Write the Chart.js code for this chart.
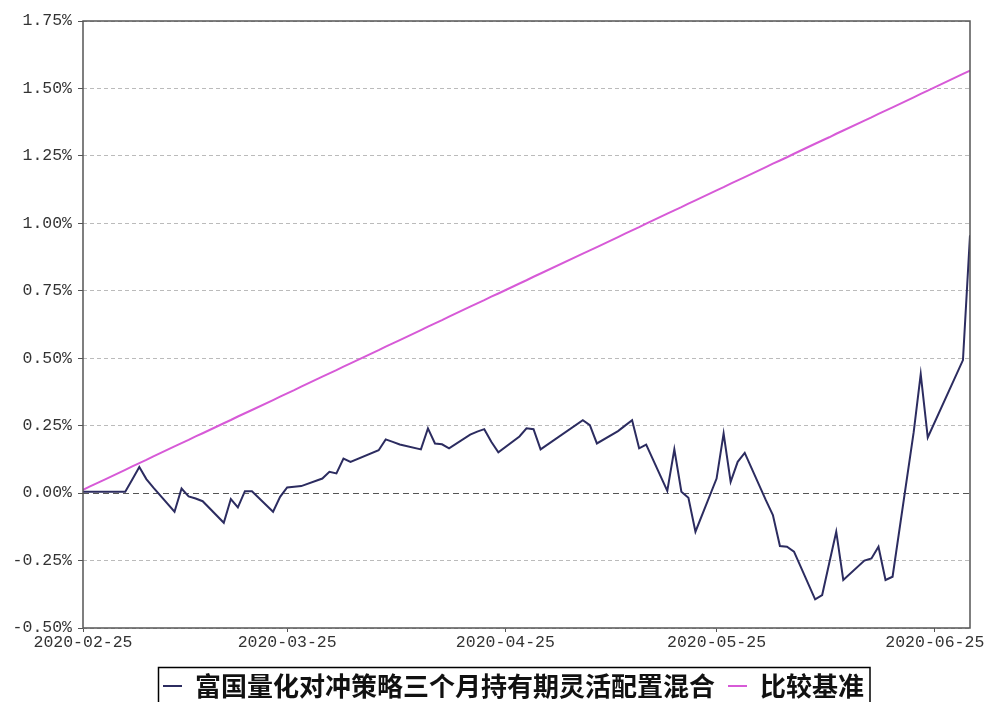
<!DOCTYPE html>
<html><head><meta charset="utf-8">
<script src="https://cdn.jsdelivr.net/npm/chart.js@4.4.0/dist/chart.umd.min.js"></script>
<style>html,body{margin:0;padding:0;background:#fff;overflow:hidden}#wrap{width:986px;height:702px;position:relative}</style>
</head><body><div id="wrap"><canvas id="c"></canvas></div>
<script>
const seriesNames = ['富国量化对冲策略三个月持有期灵活配置混合', '比较基准'];
const axisStart = '2020-02-25';
const axisEnd = '2020-06-30';
const xTickLabels = ['2020-02-25', '2020-03-25', '2020-04-25', '2020-05-25', '2020-06-25'];
const yTickValues = [-0.5, -0.25, 0, 0.25, 0.5, 0.75, 1.0, 1.25, 1.5, 1.75];

const tradeDates = ['2020-02-25','2020-02-26','2020-02-27','2020-02-28',
'2020-03-02','2020-03-03','2020-03-04','2020-03-05','2020-03-06','2020-03-09','2020-03-10','2020-03-11','2020-03-12','2020-03-13','2020-03-16','2020-03-17','2020-03-18','2020-03-19','2020-03-20','2020-03-23','2020-03-24','2020-03-25','2020-03-26','2020-03-27','2020-03-30','2020-03-31',
'2020-04-01','2020-04-02','2020-04-03','2020-04-07','2020-04-08','2020-04-09','2020-04-10','2020-04-13','2020-04-14','2020-04-15','2020-04-16','2020-04-17','2020-04-20','2020-04-21','2020-04-22','2020-04-23','2020-04-24','2020-04-27','2020-04-28','2020-04-29','2020-04-30',
'2020-05-06','2020-05-07','2020-05-08','2020-05-11','2020-05-12','2020-05-13','2020-05-14','2020-05-15','2020-05-18','2020-05-19','2020-05-20','2020-05-21','2020-05-22','2020-05-25','2020-05-26','2020-05-27','2020-05-28','2020-05-29',
'2020-06-01','2020-06-02','2020-06-03','2020-06-04','2020-06-05','2020-06-08','2020-06-09','2020-06-10','2020-06-11','2020-06-12','2020-06-15','2020-06-16','2020-06-17','2020-06-18','2020-06-19','2020-06-22','2020-06-23','2020-06-24','2020-06-29','2020-06-30'];

const fundValues = [0.005,0.005,0.005,0.005,
0.005,0.05,0.097,0.052,0.02,-0.069,0.017,-0.012,-0.02,-0.03,-0.11,-0.022,-0.053,0.007,0.007,-0.069,-0.014,0.021,0.024,0.026,0.054,0.079,
0.073,0.128,0.116,0.159,0.199,0.19,0.18,0.162,0.24,0.184,0.181,0.166,0.217,0.228,0.237,0.19,0.151,0.21,0.24,0.237,0.162,
0.27,0.252,0.184,0.23,0.25,0.27,0.166,0.18,0.008,0.162,0.005,-0.017,-0.143,0.054,0.221,0.042,0.116,0.149,
-0.026,-0.081,-0.196,-0.199,-0.217,-0.394,-0.378,-0.26,-0.143,-0.322,-0.25,-0.242,-0.199,-0.322,-0.31,0.226,0.441,0.206,0.493,0.956];

const benchmarkValues = [0.012,0.025,0.037,0.049,
0.086,0.099,0.111,0.123,0.136,0.173,0.185,0.197,0.210,0.222,0.259,0.271,0.284,0.296,0.308,0.345,0.358,0.370,0.382,0.395,0.432,0.444,
0.456,0.469,0.481,0.530,0.543,0.555,0.567,0.604,0.617,0.629,0.641,0.654,0.691,0.703,0.715,0.728,0.740,0.777,0.789,0.802,0.814,
0.888,0.900,0.912,0.949,0.962,0.974,0.986,0.999,1.036,1.048,1.060,1.073,1.085,1.122,1.134,1.147,1.159,1.171,
1.208,1.221,1.233,1.245,1.258,1.295,1.307,1.319,1.332,1.344,1.381,1.393,1.406,1.418,1.430,1.467,1.480,1.492,1.554,1.566];

const DAY = 86400000;
const dayNum = s => Math.round((Date.parse(s + 'T00:00:00Z') - Date.parse(axisStart + 'T00:00:00Z')) / DAY);
const toPoints = vals => tradeDates.map((d, i) => ({x: dayNum(d), y: vals[i]}));

const axisFont = {family: '"Liberation Mono", "DejaVu Sans Mono", monospace', size: 16.5};

const frame = {
  id: 'frame',
  afterDraw(chart) {
    const {ctx, chartArea: a} = chart;
    ctx.save();
    ctx.strokeStyle = '#555';
    ctx.lineWidth = 1.5;
    ctx.strokeRect(a.left, a.top, a.right - a.left, a.bottom - a.top);
    ctx.restore();
  }
};

const legendBox = {
  id: 'legendBox',
  afterDraw(chart) {
    const ctx = chart.ctx;
    ctx.save();
    ctx.font = 'bold 26px "Noto Sans CJK SC"';
    ctx.textBaseline = 'middle';
    ctx.textAlign = 'left';
    const cy = 686;
    let x = 163;
    chart.data.datasets.forEach(ds => {
      ctx.strokeStyle = ds.borderColor;
      ctx.lineWidth = 2;
      ctx.beginPath(); ctx.moveTo(x, cy); ctx.lineTo(x + 19, cy); ctx.stroke();
      x += 19 + 13;
      ctx.fillStyle = '#111';
      ctx.fillText(ds.label, x, cy);
      x += ctx.measureText(ds.label).width + 13;
    });
    const right = x - 13 + 6;
    ctx.strokeStyle = '#000';
    ctx.lineWidth = 1.5;
    ctx.strokeRect(158.5, 667.5, right - 158.5, 40);
    ctx.restore();
  }
};

new Chart(document.getElementById('c'), {
  type: 'line',
  data: {
    datasets: [
      {label: seriesNames[0], data: toPoints(fundValues), borderColor: '#2c2c60', backgroundColor: '#2c2c60', borderWidth: 2, pointRadius: 0, tension: 0, order: 1},
      {label: seriesNames[1], data: toPoints(benchmarkValues), borderColor: '#d75ad7', backgroundColor: '#d75ad7', borderWidth: 2, pointRadius: 0, tension: 0, order: 2}
    ]
  },
  options: {
    responsive: true,
    maintainAspectRatio: false,
    animation: false,
    devicePixelRatio: 1,
    layout: {padding: {top: 21, right: 16, left: 0, bottom: 0}},
    plugins: {legend: {display: false}, tooltip: {enabled: false}},
    scales: {
      x: {
        type: 'linear',
        min: dayNum(axisStart),
        max: dayNum(axisEnd),
        afterBuildTicks: s => { s.ticks = xTickLabels.map(d => ({value: dayNum(d)})); },
        afterFit: s => { s.height = 74; s.paddingLeft = 0; s.paddingRight = 0; },
        ticks: {
          autoSkip: false, maxRotation: 0, minRotation: 0, padding: 1, color: '#333', font: axisFont,
          callback: v => { const f = xTickLabels.find(d => dayNum(d) === v); return f || ''; }
        },
        grid: {drawOnChartArea: false, drawTicks: true, tickLength: 4, tickColor: '#555'},
        border: {display: false}
      },
      y: {
        min: -0.5,
        max: 1.75,
        afterBuildTicks: s => { s.ticks = yTickValues.map(v => ({value: v})); },
        afterFit: s => { s.width = 83; s.paddingTop = 0; s.paddingBottom = 0; },
        ticks: {padding: 6, color: '#333', font: axisFont, callback: v => Number(v).toFixed(2) + '%'},
        grid: {
          color: c => (c.tick && c.tick.value === 0) ? '#555' : '#bbb',
          lineWidth: 1, tickLength: 5, tickColor: '#555'
        },
        border: {display: false, dash: c => (c.tick && c.tick.value === 0) ? [6, 4] : [4, 3]}
      }
    }
  },
  plugins: [frame, legendBox]
});
</script>
</body></html>
